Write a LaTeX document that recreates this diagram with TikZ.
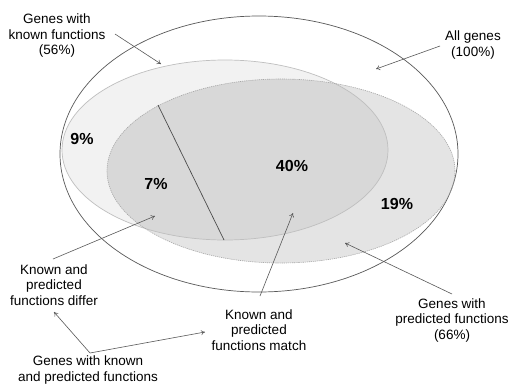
\documentclass[tikz,border=0pt]{standalone}
\usepackage{fontspec}
\setmainfont{Liberation Sans}
\usetikzlibrary{arrows.meta}
\tikzset{
  lbl/.style={align=center, font=\fontsize{13.5}{15.5}\selectfont, inner sep=0pt},
  pct/.style={font=\fontsize{16}{18}\selectfont\bfseries, inner sep=0pt},
  pointer/.style={draw=black!65, line width=0.6pt, -{To[length=4pt,width=5pt]}},
}
\begin{document}
\begin{tikzpicture}[x=1pt,y=-1pt]
\useasboundingbox (0,0) rectangle (511,383);
\fill[white] (0,0) rectangle (511,383);
% fills
\fill[fill=black!5] (225,150) ellipse [x radius=163, y radius=90];
\fill[black, opacity=0.105] (281,171) ellipse [x radius=174, y radius=92];
% borders
\draw[black!65, line width=0.7pt] (259,154) ellipse [x radius=199, y radius=138];
\draw[black!25, line width=0.7pt] (225,150) ellipse [x radius=163, y radius=90];
\draw[black!35, line width=0.6pt, dash pattern=on 1.2pt off 0.9pt] (281,171) ellipse [x radius=174, y radius=92];
% divider
\coordinate (d1) at (158,105);
\coordinate (d2) at (224,240);
\draw[black!70, line width=0.7pt] (d1) -- (d2);
% percentages
\node[pct] (p9) at (82,139) {9\%};
\node[pct] (p7) at (156,184) {7\%};
\node[pct] (p40) at (292,166) {40\%};
\node[pct] (p19) at (397,204) {19\%};
% labels
\node[lbl] (known) at (57,36) {Genes with\\known functions\\(56\%)};
\node[lbl] (all) at (473,45) {All genes\\(100\%)};
\node[lbl] (differ) at (54,285) {Known and\\predicted\\functions differ};
\node[lbl] (match) at (259,330) {Known and\\predicted\\functions match};
\node[lbl] (pred) at (452,320) {Genes with\\predicted functions\\(66\%)};
\node[lbl] (both) at (88,370) {Genes with known\\and predicted functions};
% arrow targets
\coordinate (tknown) at (161,64);
\coordinate (tall) at (376,69);
\coordinate (tdiffer) at (155,216);
\coordinate (tmatch) at (293,213);
\coordinate (tpred) at (345,243);
\coordinate (sknown) at (115,34);
\coordinate (sall) at (440,46);
\coordinate (sdiffer) at (53,259);
\coordinate (smatch) at (260,296);
\coordinate (spred) at (452,294);
\coordinate (sboth) at (90,353);
\coordinate (bdiffer) at (54,312);
\coordinate (bmatch) at (205,332);
\draw[pointer] (sknown) -- (tknown);
\draw[pointer] (sall) -- (tall);
\draw[pointer] (sdiffer) -- (tdiffer);
\draw[pointer] (smatch) -- (tmatch);
\draw[pointer] (spred) -- (tpred);
\draw[pointer] (sboth) -- (bdiffer);
\draw[pointer] (sboth) -- (bmatch);
\end{tikzpicture}
\end{document}
